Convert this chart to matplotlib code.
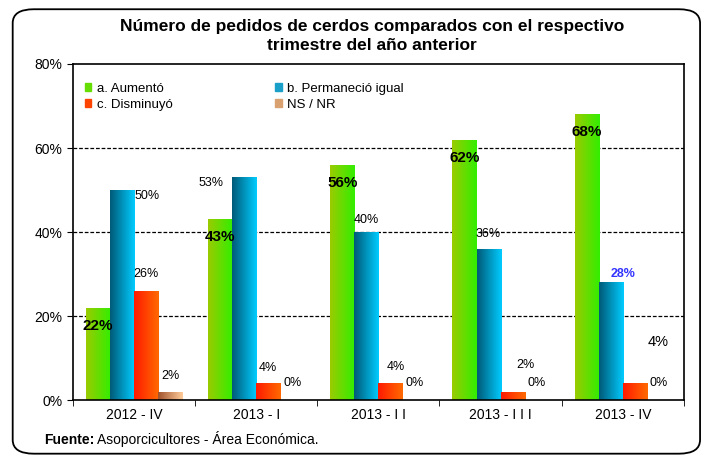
import numpy as np
import matplotlib as mpl
mpl.use('Agg')
import matplotlib.pyplot as plt
from matplotlib.colors import LinearSegmentedColormap
from matplotlib.patches import FancyBboxPatch, Patch

plt.rcParams['font.family'] = ['Liberation Sans Narrow', 'Liberation Sans', 'DejaVu Sans']

# data
quarters = ["2012 - IV", "2013 - I", "2013 - I I", "2013 - I I I", "2013 - IV"]
aumento = [22, 43, 56, 62, 68]
permanecio = [50, 53, 40, 36, 28]
disminuyo = [26, 4, 4, 2, 4]
nsnr = [2, 0, 0, 0, 0]
series_names = ["a. Aumentó", "b. Permaneció igual", "c. Disminuyó", "NS / NR"]

# label offsets in points (dx, dy) relative to bar top centre
green_off = [(0, -13), (0, -13), (0, -13), (0, -13), (0, -13)]
blue_off = [(18, -4), (-24, -4), (0, 9), (0, 11), (9, 6)]
red_off = [(0, 12), (0, 11), (4, 12), (9, 19), (17, 30)]
ns_off = [(0, 11), (0, 12), (0, 12), (0, 12), (0, 12)]

grads = [
    ("#9acb00", "#33ee00"),
    ("#005a78", "#00ccff"),
    ("#ff1a00", "#ff6a00"),
    ("#a0522d", "#ffcc99"),
]
solid = ["#66dd00", "#1aa0c8", "#ff4400", "#d9a070"]

fig = plt.figure(figsize=(7.05, 4.62), dpi=100)
fig.patches.append(FancyBboxPatch((0.018, 0.018), 0.975, 0.962,
                                  boxstyle="round,pad=0,rounding_size=0.03",
                                  transform=fig.transFigure, fill=False,
                                  ec="black", lw=1.3))
ax = fig.add_axes([0.1035, 0.134, 0.8665, 0.7275])

x = np.arange(len(quarters))
w = 0.197
allvals = [aumento, permanecio, disminuyo, nsnr]
grad_img = np.linspace(0, 1, 64).reshape(1, -1)
for i, vals in enumerate(allvals):
    pos = x + (i - 1.5) * w
    bars = ax.bar(pos, vals, w, color=solid[i], lw=0, label=series_names[i])
    cmap = LinearSegmentedColormap.from_list("g%d" % i, grads[i])
    for b in bars:
        if b.get_height() <= 0:
            continue
        bx, by = b.get_x(), b.get_y()
        im = ax.imshow(grad_img, cmap=cmap, aspect='auto', zorder=2,
                       extent=[bx, bx + b.get_width(), by, by + b.get_height()])
        im.set_clip_path(b)

offs = [green_off, blue_off, red_off, ns_off]
for i, vals in enumerate(allvals):
    pos = x + (i - 1.5) * w
    for j, v in enumerate(vals):
        dx, dy = offs[i][j]
        if i == 0:
            kw = dict(fontsize=11, fontweight='bold')
        elif i == 1 and j == 4:
            kw = dict(fontsize=9, color='#3333ff', fontweight='bold')
        elif i == 2 and j == 4:
            kw = dict(fontsize=10.5)
        else:
            kw = dict(fontsize=9)
        ax.annotate("%d%%" % v, (pos[j], v), xytext=(dx, dy),
                    textcoords='offset points', ha='center', va='center',
                    zorder=5, **kw)

ax.set_xlim(-0.5, len(quarters) - 0.5)
ax.set_ylim(0, 80)
ax.set_yticks([0, 20, 40, 60, 80])
ax.set_yticklabels(["%d%%" % t for t in [0, 20, 40, 60, 80]], fontsize=10)
ax.set_xticks(x)
ax.set_xticklabels(quarters, fontsize=10)
ax.set_xticks(np.arange(len(quarters) + 1) - 0.5, minor=True)
ax.tick_params(axis='x', which='major', length=0, pad=6)
ax.tick_params(axis='x', which='minor', length=4, direction='out')
ax.tick_params(axis='y', length=4, direction='out')
for yv in [20, 40, 60]:
    ax.axhline(yv, color='black', ls=(0, (3, 1.5)), lw=0.9, zorder=1)
for s in ax.spines.values():
    s.set_linewidth(1.2)

# column-wise fill: a, c in col 1; b, NS in col 2
order = [0, 2, 1, 3]
handles = [Patch(color=solid[k]) for k in order]
labels = [series_names[k] for k in order]
leg = ax.legend(handles, labels, loc='upper left', ncol=2, frameon=False,
                fontsize=9.5, handlelength=0.5, handleheight=0.5,
                handletextpad=0.4, columnspacing=7.8, labelspacing=0.3,
                bbox_to_anchor=(0.0, 0.98))

fig.text(0.528, 0.922, "Número de pedidos de cerdos comparados con el respectivo\ntrimestre del año anterior",
         ha='center', va='center', fontsize=12.5, fontweight='bold', linespacing=1.35)
fig.text(0.062, 0.038, "Fuente:", fontsize=10, fontweight='bold', va='baseline')
fig.text(0.137, 0.038, "Asoporcicultores - Área Económica.", fontsize=10, va='baseline')

plt.savefig("out.png", dpi=100)
